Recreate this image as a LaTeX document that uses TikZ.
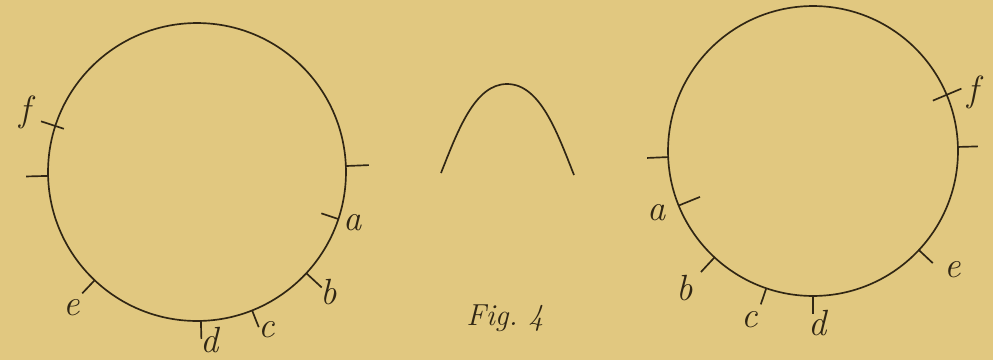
\documentclass[tikz,border=0pt]{standalone}
\usetikzlibrary{calc}
\definecolor{Paper}{RGB}{225,200,128}
\definecolor{Ink}{RGB}{48,38,20}
\tikzset{
  ring/.style={circle,draw=Ink,line width=.95pt,inner sep=0pt},
  tick/.style={draw=Ink,line width=.95pt},
  curve/.style={draw=Ink,line width=.95pt},
  letter/.style={font=\huge\itshape,text=Ink,inner sep=1pt},
  caption/.style={font=\LARGE\itshape,text=Ink}
}
\begin{document}
\begin{tikzpicture}[x=.02cm,y=.02cm]
  \fill[Paper] (0,0) rectangle (993,360);
  \useasboundingbox (0,0) rectangle (993,360);
  % left ring
  \node[ring,minimum size=5.96cm] (L) at (197,188) {};
  \foreach \a/\l in {2.3/23,181.5/22,-42.8/21,-68.3/18,-88.5/18,-133.4/18}
    \draw[tick] ($(L.center)+(\a:149)$) -- ($(L.center)+(\a:{149+\l})$);
  \draw[tick] ($(L.center)+(-18.4:131)$) -- ($(L.center)+(-18.4:149)$);
  \draw[tick] ($(L.center)+(162:140)$) -- ($(L.center)+(162:164)$);
  \node[letter] (La) at (353,137) {a};
  \node[letter] (Lb) at (329,68) {b};
  \node[letter] (Lc) at (267,30) {c};
  \node[letter] (Ld) at (210,20) {d};
  \node[letter] (Le) at (72,52) {e};
  \node[letter] (Lf) at (25,248) {f};
  % middle bump
  \draw[curve] (441,187) .. controls (458,230) and (475,276) .. (507,276)
    .. controls (540,276) and (557,228) .. (574,185);
  \node[caption] (cap) at (505,42) {Fig.~4};
  % right ring
  \node[ring,minimum size=5.8cm] (R) at (813,209) {};
  \foreach \a/\l in {1.6/20,182.4/21,227.2/20,251.2/17,270/18,316.9/19}
    \draw[tick] ($(R.center)+(\a:145)$) -- ($(R.center)+(\a:{145+\l})$);
  \draw[tick] ($(R.center)+(202.1:122)$) -- ($(R.center)+(202.1:145)$);
  \draw[tick] ($(R.center)+(22.8:130)$) -- ($(R.center)+(22.8:161)$);
  \node[letter] (Ra) at (657,147) {a};
  \node[letter] (Rb) at (685,72) {b};
  \node[letter] (Rc) at (750,40) {c};
  \node[letter] (Rd) at (818,37) {d};
  \node[letter] (Re) at (953,90) {e};
  \node[letter] (Rf) at (973,268) {f};
\end{tikzpicture}
\end{document}
